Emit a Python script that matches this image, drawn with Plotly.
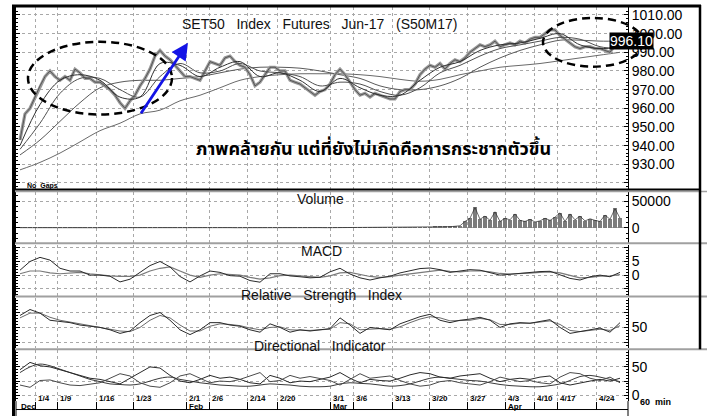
import plotly.graph_objects as go
from plotly.subplots import make_subplots

W, H = 707, 418

# ---------------- data ----------------
# price closes, one value per ~5px step (bar group index)
price_close = [943, 957, 960, 966, 972, 977, 980, 977, 975, 977,
               975, 981, 979, 976, 976, 974, 974, 972, 970, 967,
               963, 960, 964, 967, 972, 976, 981, 988, 991, 988,
               986, 983, 980, 977, 977, 976, 975, 980, 985, 984,
               983, 987, 988, 985, 983, 982, 978, 972, 974, 978,
               982, 982, 980, 980, 975, 974, 973, 971, 969, 967,
               969, 970, 973, 978, 981, 978, 974, 970, 967, 968,
               966, 968, 967, 966, 965, 965, 969, 970, 970, 973,
               978, 981, 983, 982, 984, 981, 984, 986, 985, 987,
               990, 992, 994, 993, 994, 996, 993, 994, 995, 994,
               996, 995, 997, 998, 998, 1000, 1002, 1002, 999, 997,
               995, 993, 992, 993, 993, 992, 992, 991, 990, 994, 996.1]
last_price = 996.10

# moving averages sampled every 4 bar groups
ma_fast1 = [940, 962, 975, 978, 975, 966, 966, 984, 983, 977, 982, 985, 977, 979, 975, 969,
            976, 971, 967, 967, 975, 982, 985, 991, 994, 995, 997.5, 1000, 994, 992, 993]
ma_fast2 = [938, 952, 968, 976, 976, 970, 966, 977, 984, 979, 980, 984, 980, 979, 977, 972,
            974, 973, 969, 967, 971, 979, 983, 988, 992, 994, 996, 998, 997, 993, 992]
ma_mid = [935, 943, 953, 963, 971, 974, 975, 975, 976, 977, 979, 981, 982, 982, 981.5, 980,
          978, 976, 972, 970, 970, 972, 976, 982, 987, 991, 994, 996.5, 996.5, 996, 996]
ma_long = [927, 931, 936, 942, 948, 952, 957, 959, 964, 967, 971, 975, 977, 978, 978.5, 978.5,
           978.5, 978, 977, 975.5, 974.5, 975.5, 978, 980, 982, 983, 984, 985.5, 987, 988.5, 990]

volume = [400, 300, 500, 350, 450, 300, 600, 400, 350, 500,
          300, 450, 400, 350, 500, 300, 400, 450, 350, 300,
          500, 400, 350, 450, 300, 400, 500, 350, 400, 300,
          450, 350, 400, 500, 300, 350, 450, 400, 300, 500,
          350, 400, 450, 300, 400, 350, 500, 400, 300, 450,
          350, 400, 300, 500, 450, 350, 400, 300, 450, 400,
          500, 350, 400, 450, 300, 400, 350, 500, 400, 450,
          500, 600, 550, 700, 600, 800, 700, 900, 800, 1000,
          1200, 1100, 1500, 2000, 1800, 2500, 2200, 3000, 4000, 12000,
          18000, 38000, 16000, 22000, 14000, 30000, 12000, 18000, 15000, 26000,
          14000, 12000, 16000, 11000, 13000, 18000, 14000, 20000, 28000, 12000,
          26000, 15000, 22000, 13000, 17000, 14000, 12000, 24000, 16000, 36000, 18000]

# indicators sampled every 2 bar groups
macd = [1.8, 5, 6.5, 5.5, 2.5, 1.5, 1.5, 0, 0, -0.4, -2.5, -1.5, 1, 3.5, 5, 3, -0.5, -2.5, -0.3, 1.5,
        1, -0.2, -0.4, -2, -2.6, 0.5, 0.5, -0.3, -0.6, -1, -0.8, 1.2, 2.5, 0.4, -1, -1.8, -1, -0.4, 0.8, 1.5,
        2.4, 2.6, 2, 1, 1.5, 2, 1.8, 0.8, 0, 0.3, 0.7, 1, 1.3, 1.4, 0, -1.2, -1.8, -0.6, 0, -0.6, 1]
macd_signal = [0.5, 1.5, 1.5, 0.8, 0.5, 0.8, 1, 0.5, 0, -0.3, -0.5, -0.5, 0, 1.5, 2.5, 3, 1.5, 0, -0.8, 0,
               0.5, 0.3, 0, -0.8, -1.5, -1, -0.2, 0, -0.2, -0.5, -0.8, -0.3, 0.8, 1, 0.3, -0.5, -0.8, -0.6, 0, 0.5,
               1, 1.5, 1.8, 1.4, 1.2, 1.5, 1.6, 1.2, 0.6, 0.4, 0.5, 0.7, 1, 1.2, 0.8, -0.2, -1, -0.8, -0.4, -0.3, 0.2]
rsi = [70, 80, 74, 62, 60, 58, 54, 52, 50, 46, 40, 44, 58, 70, 75, 62, 46, 38, 46, 58,
       58, 54, 52, 46, 42, 56, 50, 42, 46, 44, 46, 48, 66, 54, 40, 50, 48, 46, 56, 62,
       68, 72, 62, 58, 62, 64, 67, 62, 50, 56, 58, 57, 60, 63, 50, 40, 43, 46, 49, 42, 58]
rsi_avg = [66, 74, 74, 67, 62, 59, 56, 53, 51, 48, 44, 43, 50, 62, 70, 66, 54, 44, 44, 52,
           56, 55, 53, 49, 46, 50, 51, 46, 45, 45, 46, 47, 58, 56, 46, 47, 48, 47, 51, 58,
           64, 68, 66, 61, 61, 62, 65, 63, 55, 55, 57, 57, 59, 61, 55, 45, 43, 45, 47, 45, 53]
di_plus = [45, 58, 52, 50, 45, 40, 35, 30, 28, 24, 20, 30, 40, 50, 48, 35, 25, 22, 28, 35,
           30, 32, 28, 22, 20, 35, 30, 22, 25, 24, 28, 32, 40, 30, 22, 28, 26, 25, 30, 36,
           40, 38, 32, 30, 34, 36, 38, 30, 24, 28, 30, 28, 32, 34, 22, 18, 22, 25, 28, 25, 30]
di_minus = [18, 14, 26, 27, 22, 18, 17, 20, 22, 30, 38, 34, 22, 16, 14, 22, 34, 38, 30, 22,
            25, 24, 28, 34, 40, 24, 26, 35, 30, 33, 30, 26, 18, 28, 38, 30, 32, 34, 26, 20,
            16, 18, 24, 26, 22, 20, 18, 24, 32, 28, 24, 26, 22, 20, 32, 40, 38, 30, 26, 32, 22]
adx = [40, 50, 55, 52, 46, 40, 34, 28, 24, 20, 19, 18, 20, 25, 30, 32, 28, 25, 22, 20,
       18, 17, 16, 16, 18, 20, 19, 18, 16, 15, 15, 16, 20, 22, 21, 20, 18, 16, 17, 20,
       25, 30, 32, 30, 28, 26, 25, 22, 19, 17, 16, 15, 15, 17, 20, 26, 33, 35, 32, 28, 24]

tick_pos = [3, 7.4, 15.2, 22.6, 33.2, 37.8, 45.4, 51.4, 62, 66.6, 74.4, 81.8, 89.4, 97, 102.8, 107.4, 115.2]
tick_lab = ["1/4", "1/9", "1/16", "1/23", "2/1", "2/6", "2/14", "2/20", "3/1", "3/6",
            "3/13", "3/20", "3/27", "4/3", "4/10", "4/17", "4/24"]
month_pos = [-0.4, 33.2, 62, 97]
month_lab = ["Dec", "Feb", "Mar", "Apr"]

price_ticks = [920, 930, 940, 950, 960, 970, 980, 990, 1000, 1010]
price_tick_text = ["", "930.00", "940.00", "950.00", "960.00", "970.00", "980.00", "990.00", "1000.00", "1010.00"]

# ---------------- figure ----------------
idx = list(range(len(price_close)))
idx2 = list(range(0, 121, 2))
idx4 = list(range(0, 121, 4))

fig = make_subplots(rows=5, cols=1, shared_xaxes=True, vertical_spacing=0.0)

def X(p):
    return p / W

def Y(p):
    return 1 - p / H

lw = 1
fig.add_trace(go.Scatter(x=idx4, y=ma_long, mode="lines", line=dict(color="#6a6a6a", width=lw, shape="spline")), 1, 1)
fig.add_trace(go.Scatter(x=idx4, y=ma_mid, mode="lines", line=dict(color="#5a5a5a", width=lw, shape="spline")), 1, 1)
fig.add_trace(go.Scatter(x=idx, y=price_close, mode="lines", line=dict(color="#9a9a9a", width=3.2)), 1, 1)
fig.add_trace(go.Scatter(x=idx, y=price_close, mode="lines", line=dict(color="#454545", width=0.8)), 1, 1)
fig.add_trace(go.Scatter(x=idx4, y=ma_fast2, mode="lines", line=dict(color="#505050", width=lw, shape="spline")), 1, 1)
fig.add_trace(go.Scatter(x=idx4, y=ma_fast1, mode="lines", line=dict(color="#303030", width=lw, shape="spline")), 1, 1)

fig.add_trace(go.Bar(x=idx, y=volume, marker=dict(color="#7c7c7c", line=dict(width=0)), width=0.7), 2, 1)
fig.add_trace(go.Scatter(x=idx, y=volume, mode="lines", line=dict(color="#2a2a2a", width=0.7)), 2, 1)

fig.add_trace(go.Scatter(x=idx2, y=macd_signal, mode="lines", line=dict(color="#7a7a7a", width=1.2)), 3, 1)
fig.add_trace(go.Scatter(x=idx2, y=macd, mode="lines", line=dict(color="#2a2a2a", width=1)), 3, 1)

fig.add_trace(go.Scatter(x=idx2, y=rsi_avg, mode="lines", line=dict(color="#6a6a6a", width=1)), 4, 1)
fig.add_trace(go.Scatter(x=idx2, y=rsi, mode="lines", line=dict(color="#2a2a2a", width=1)), 4, 1)

fig.add_trace(go.Scatter(x=idx2, y=adx, mode="lines", line=dict(color="#3a3a3a", width=1, shape="spline")), 5, 1)
fig.add_trace(go.Scatter(x=idx2, y=di_plus, mode="lines", line=dict(color="#2a2a2a", width=1)), 5, 1)
fig.add_trace(go.Scatter(x=idx2, y=di_minus, mode="lines", line=dict(color="#4a4a4a", width=1)), 5, 1)

font = "Liberation Sans, Arial, sans-serif"
grid = dict(showgrid=True, gridcolor="#a8a8a8", griddash="dot", gridwidth=1)

domains = [(7, 190), (193, 244), (246, 297), (299, 350), (352, 403)]
ranges = [(916.7, 1014.3), (-27800, 66700), (-7.5, 11.1), (15, 100), (-10.3, 79.3)]
ytv = [price_ticks, [0, 50000], [-5, 0, 5, 10], [25, 50, 75], [0, 25, 50]]
ytt = [price_tick_text, ["0", "50000"], ["", "0", "5", ""], ["", "50", ""], ["0", "", "50"]]
minor_dt = [2, 10000, 1, 5, 5]

for i in range(5):
    n = "" if i == 0 else str(i + 1)
    t0, t1 = domains[i]
    fig.layout["yaxis" + n].update(
        domain=[Y(t1), Y(t0)], range=list(ranges[i]), side="right",
        tickmode="array", tickvals=ytv[i], ticktext=ytt[i],
        tickfont=dict(family=font, size=14, color="#000"),
        ticks="inside", ticklen=4, tickcolor="#000",
        minor=dict(tickmode="linear", dtick=minor_dt[i], ticks="inside", ticklen=2, tickcolor="#000", showgrid=False),
        showline=True, linecolor="#000", linewidth=1, mirror="ticks",
        zeroline=False, fixedrange=True, **grid)
    fig.layout["xaxis" + n].update(
        domain=[X(16), X(628)], range=[-0.8, 121.6],
        tickmode="array", tickvals=tick_pos, showticklabels=False,
        ticks="outside" if i == 4 else "", ticklen=8, tickcolor="#000",
        showline=False, zeroline=False, **grid)

ann = []
# tick labels
for p, s in zip(tick_pos, tick_lab):
    ann.append(dict(x=p, xref="x5", y=Y(407), yref="paper", text="<b>" + s + "</b>", showarrow=False,
                    xanchor="left", xshift=1, font=dict(family=font, size=8, color="#000")))
for p, s in zip(month_pos, month_lab):
    ann.append(dict(x=p, xref="x5", y=Y(415), yref="paper", text="<b>" + s + "</b>", showarrow=False,
                    xanchor="left", xshift=1, font=dict(family=font, size=8, color="#000")))

def txt(x, y, s, size=13, bold=False, color="#111", fam=font, **kw):
    ann.append(dict(x=X(x), y=Y(y), xref="paper", yref="paper", text=("<b>%s</b>" % s) if bold else s,
                    showarrow=False, font=dict(family=fam, size=size, color=color), **kw))

sp = "\u00a0\u00a0 "
txt(319, 14, sp.join(["SET50", "Index", "Futures", "Jun-17", "(S50M17)"]), 14)
txt(374, 135, "ภาพคล้ายกัน แต่ที่ยังไม่เกิดคือการกระชากตัวขึ้น", 18, True, "#000",
    "Noto Sans Thai, Tahoma, sans-serif")
txt(25, 187, "No\u00a0 Gaps", 7, True, "#000", xanchor="left")
txt(320, 200, "Volume", 14)
txt(321, 252, "MACD", 14)
txt(321, 306, sp.join(["Relative", "Strength", "Index"]), 14)
txt(320, 358, sp.join(["Directional", "Indicator"]), 14)
txt(673, 411, "60\u00a0 min", 9, True, "#000")
# last price tag
ann.append(dict(x=X(654), y=last_price, xref="paper", yref="y", text="996.10", showarrow=False,
                bgcolor="#000", font=dict(family=font, size=14, color="#fff"), borderpad=0))
# blue arrow
ann.append(dict(x=X(188), y=Y(43), xref="paper", yref="paper", ax=-48, ay=72, showarrow=True,
                arrowhead=2, arrowsize=1.2, arrowwidth=2.8, arrowcolor="#1414e6", text=""))

shapes = []
# dashed ellipses
shapes.append(dict(type="circle", xref="paper", yref="paper", x0=X(28), x1=X(172), y0=Y(115), y1=Y(42),
                   line=dict(color="#000", width=2.5, dash="8px,5px")))
shapes.append(dict(type="circle", xref="paper", yref="paper", x0=X(543), x1=X(643), y0=Y(67), y1=Y(18),
                   line=dict(color="#000", width=2.5, dash="8px,5px")))

def hline(y, x0, x1, color, w):
    shapes.append(dict(type="line", xref="paper", yref="paper", x0=X(x0), x1=X(x1), y0=Y(y), y1=Y(y),
                       line=dict(color=color, width=w)))

def vline(x, y0, y1, color, w):
    shapes.append(dict(type="line", xref="paper", yref="paper", x0=X(x), x1=X(x), y0=Y(y0), y1=Y(y1),
                       line=dict(color=color, width=w)))

for yy in (244.5, 298, 351):
    hline(yy, 14, 707, "#a0a0a0", 2)
hline(192.5, 14, 707, "#a0a0a0", 1.5)
hline(190.5, 13, 701, "#000", 2)
hline(6, 12, 701, "#000", 3)
vline(13.5, 5, 418, "#000", 3)
vline(700, 5, 351, "#000", 2.5)
hline(411.5, 16, 628, "#000", 1)
vline(628, 403, 418, "#000", 1)
vline(16, 403, 418, "#000", 1)

fig.update_layout(width=W, height=H, margin=dict(l=0, r=0, t=0, b=0),
                  paper_bgcolor="#fff", plot_bgcolor="#fff", showlegend=False,
                  bargap=0, annotations=ann, shapes=shapes)

fig.write_html("out.html", config={"displayModeBar": False},
               post_script="document.body.style.margin='0';document.body.style.overflow='hidden';")
